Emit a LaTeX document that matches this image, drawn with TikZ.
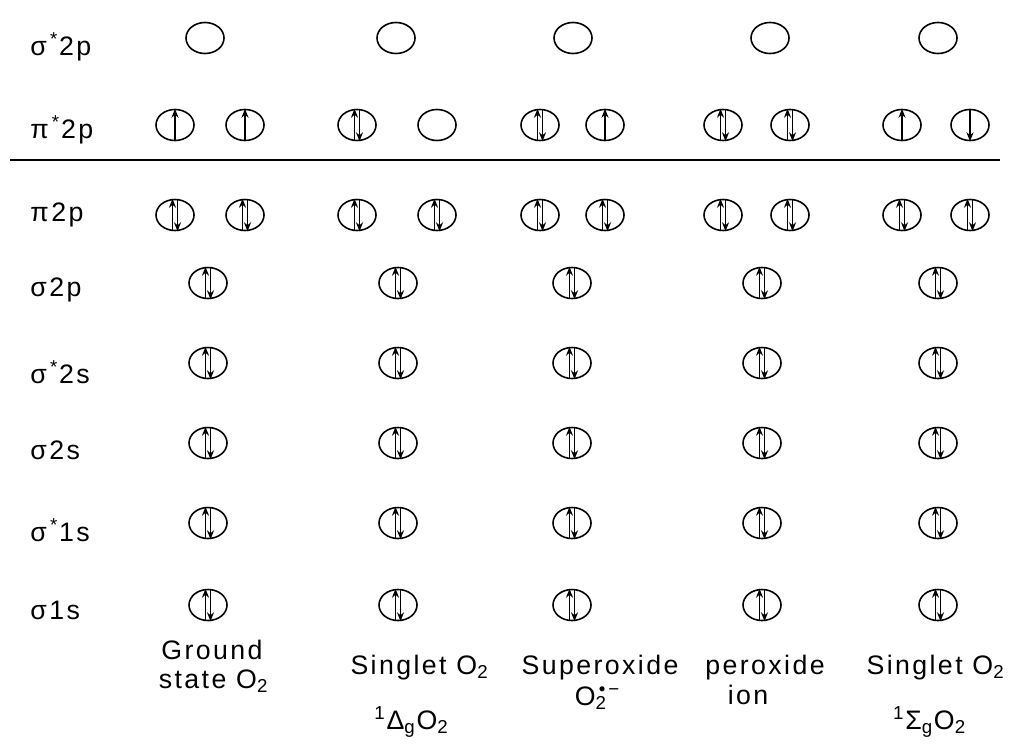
\documentclass[tikz,border=0pt]{standalone}
\usepackage{fontspec}
\setmainfont{Liberation Sans}[LetterSpace=9]
\usetikzlibrary{shapes.geometric,arrows.meta}

\tikzset{
  orb/.style={draw, ellipse, minimum width=0.38cm, minimum height=0.31cm, inner sep=0pt, line width=0.45pt},
  spin/.style={line width=0.5pt, -{Stealth[length=0.9mm,width=0.7mm]}},
  lbl/.style={font=\fontsize{7.6}{9}\selectfont},
}
\newcommand{\spinup}[1]{\draw[spin] (#1.south) -- (#1.north);}
\newcommand{\spindown}[1]{\draw[spin] (#1.north) -- (#1.south);}
\newcommand{\spinpair}[1]{%
  \draw[spin] ([xshift=-0.25mm]#1.south) -- ([xshift=-0.25mm]#1.north);
  \draw[spin] ([xshift=0.25mm]#1.north) -- ([xshift=0.25mm]#1.south);}

\begin{document}
\begin{tikzpicture}[x=0.01cm,y=-0.01cm]
\useasboundingbox (0,0) rectangle (1016,751);

\node[lbl,anchor=west] (lsigsp) at (18,47) {σ\textsuperscript{\,*}2p};
\node[lbl,anchor=west] (lpisp) at (18,130) {π\textsuperscript{\,*}2p};
\node[lbl,anchor=west] (lpip) at (18,215) {π2p};
\node[lbl,anchor=west] (lsigp) at (18,290) {σ2p};
\node[lbl,anchor=west] (lsigss) at (18,372) {σ\textsuperscript{\,*}2s};
\node[lbl,anchor=west] (lsigs) at (18,450) {σ2s};
\node[lbl,anchor=west] (lsigs1) at (18,530) {σ\textsuperscript{\,*}1s};
\node[lbl,anchor=west] (lsig1) at (18,610) {σ1s};

\draw[line width=0.6pt] (10,160) -- (1000,160);

\foreach \x [count=\i] in {205,396,573,770,938}
  \node[orb] (top\i) at (\x,38) {};

\foreach \x [count=\i] in {175,245,357,437,540,605,723,790,902,970} {
  \node[orb] (pis\i) at (\x,125) {};
  \node[orb] (pi\i) at (\x,215) {};
  \spinpair{pi\i}
}
\spinup{pis1} \spinup{pis2}
\spinpair{pis3}
\spinpair{pis5} \spinup{pis6}
\spinpair{pis7} \spinpair{pis8}
\spinup{pis9} \spindown{pis10}

\foreach \y [count=\j] in {283,363,443,523,605}
  \foreach \x [count=\i] in {208,398,572,762,938} {
    \node[orb] (o\j\i) at (\x,\y) {};
    \spinpair{o\j\i}
  }

\node[lbl] (gs1) at (212,650) {Ground};
\node[lbl] (gs2) at (214,681) {state O\textsubscript{2}};
\node[lbl] (sd1) at (420,668) {Singlet O\textsubscript{2}};
\node[lbl] (sd2) at (412,722) {\textsuperscript{1}Δ\textsubscript{g}O\textsubscript{2}};
\node[lbl] (so1) at (600,668) {Superoxide};
\node[lbl] (so2) at (598,698) {O\rlap{\textsubscript{2}}\textsuperscript{\,•\,−}};
\node[lbl] (pe1) at (765,668) {peroxide};
\node[lbl] (pe2) at (748,695) {ion};
\node[lbl] (sg1) at (936,668) {Singlet O\textsubscript{2}};
\node[lbl] (sg2) at (930,722) {\textsuperscript{1}Σ\textsubscript{g}O\textsubscript{2}};
\end{tikzpicture}
\end{document}
